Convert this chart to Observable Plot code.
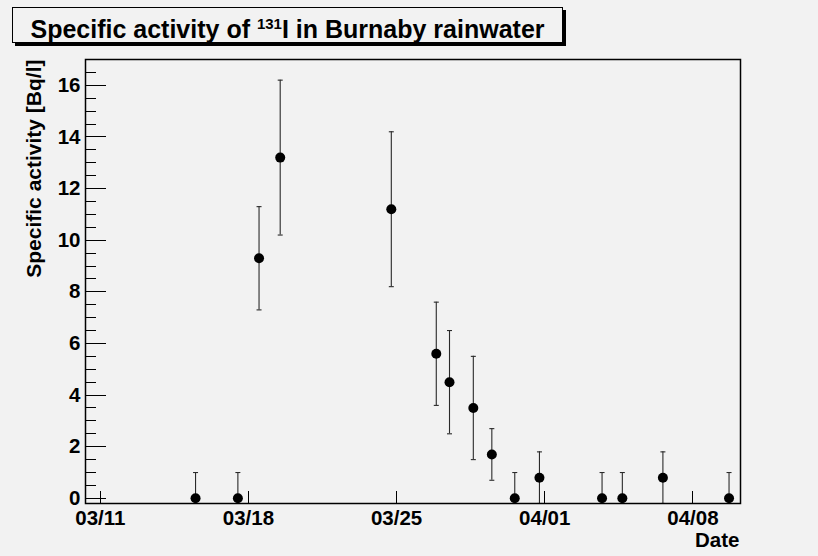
<!DOCTYPE html>
<html>
<head>
<meta charset="utf-8">
<script src="https://cdn.jsdelivr.net/npm/d3@7"></script>
<script src="https://cdn.jsdelivr.net/npm/@observablehq/plot@0.6"></script>
<style>
  html, body { margin: 0; padding: 0; background: #f2f2f2; }
  #wrap { position: relative; width: 818px; height: 556px; background: #f2f2f2; font-family: "Liberation Sans", Arial, Helvetica, sans-serif; }
  #title {
    position: absolute; left: 12px; top: 7px; width: 551px; height: 36px;
    box-sizing: border-box; border: 1px solid #000; background: #f2f2f2;
    box-shadow: 3px 3px 0 #000;
    text-align: center; font-weight: bold; font-size: 25px; line-height: 34px; color: #000;
  }
  #title .in { position: relative; top: 4px; }
  #title .sup { font-size: 0.6em; position: relative; top: -0.62em; }
  #chart { position: absolute; left: 0; top: 0; }
</style>
</head>
<body>
<div id="wrap">
  <div id="chart"></div>
  <div id="title"><span class="in">Specific activity of <span class="sup">131</span>I in Burnaby rainwater</span></div>
</div>
<script>
// Sampling dates (UTC), measured specific activity [Bq/l] and uncertainty
const dates = [
  "2011-03-15T12:00Z", "2011-03-17T12:00Z", "2011-03-18T12:00Z", "2011-03-19T12:00Z",
  "2011-03-24T18:00Z", "2011-03-26T21:00Z", "2011-03-27T12:00Z", "2011-03-28T15:00Z",
  "2011-03-29T12:00Z", "2011-03-30T14:00Z", "2011-03-31T18:00Z", "2011-04-03T17:00Z",
  "2011-04-04T16:00Z", "2011-04-06T14:00Z", "2011-04-09T17:00Z"
];
const activity = [0, 0, 9.3, 13.2, 11.2, 5.6, 4.5, 3.5, 1.7, 0, 0.8, 0, 0, 0.8, 0];
const errors   = [1, 1, 2,   3,    3,    2,   2,   2,   1,   1, 1,   1, 1, 1,   1];

const xTickDates = ["2011-03-11T00:00Z", "2011-03-18T00:00Z", "2011-03-25T00:00Z", "2011-04-01T00:00Z", "2011-04-08T00:00Z"];
const yMajor = [0, 2, 4, 6, 8, 10, 12, 14, 16];
const yMinor = [0.5, 1, 1.5, 2.5, 3, 3.5, 4.5, 5, 5.5, 6.5, 7, 7.5, 8.5, 9, 9.5, 10.5, 11, 11.5, 12.5, 13, 13.5, 14.5, 15, 15.5, 16.5, 17];
const xDomain = ["2011-03-10T07:12Z", "2011-04-10T06:00Z"];
const yDomain = [-0.2, 17];

const data = dates.map((d, i) => ({
  date: new Date(d), v: activity[i], lo: activity[i] - errors[i], hi: activity[i] + errors[i]
}));
const xTicks = xTickDates.map(d => new Date(d));

const hTick = len => ({ draw(ctx) { ctx.moveTo(0, 0); ctx.lineTo(len, 0); } });
const vTick = len => ({ draw(ctx) { ctx.moveTo(0, 0); ctx.lineTo(0, -len); } });
const cap = { draw(ctx) { ctx.moveTo(-2.5, 0); ctx.lineTo(2.5, 0); } };

const font = "Liberation Sans, Arial, Helvetica, sans-serif";

const chart = Plot.plot({
  width: 818,
  height: 556,
  marginLeft: 85,
  marginRight: 78,
  marginTop: 59,
  marginBottom: 53,
  style: { background: "#f2f2f2", fontFamily: font, color: "#000", overflow: "visible" },
  x: { type: "utc", domain: xDomain.map(d => new Date(d)) },
  y: { domain: yDomain },
  marks: [
    // error bars
    Plot.ruleX(data, { x: "date", y1: "lo", y2: "hi", stroke: "#2a2a2a", strokeWidth: 1.1, clip: true }),
    Plot.dot(data, { x: "date", y: "hi", symbol: cap, fill: "none", stroke: "#2a2a2a", strokeWidth: 1.1, clip: true }),
    Plot.dot(data, { x: "date", y: "lo", symbol: cap, fill: "none", stroke: "#2a2a2a", strokeWidth: 1.1, clip: true }),
    // points
    Plot.dot(data, { x: "date", y: "v", r: 5, fill: "#000", stroke: "none" }),
    // y ticks (inward)
    Plot.dot(yMajor, { y: d => d, frameAnchor: "left", symbol: hTick(20), fill: "none", stroke: "#000", strokeWidth: 1, shapeRendering: "crispEdges" }),
    Plot.dot(yMinor, { y: d => d, frameAnchor: "left", symbol: hTick(10), fill: "none", stroke: "#000", strokeWidth: 1, shapeRendering: "crispEdges" }),
    // x ticks (inward)
    Plot.dot(xTicks, { x: d => d, frameAnchor: "bottom", symbol: vTick(13), fill: "none", stroke: "#000", strokeWidth: 1, shapeRendering: "crispEdges" }),
    Plot.axisY({ ticks: yMajor, tickSize: 0, tickPadding: 5, fontSize: 20.5, fontWeight: "bold", label: null }),
    Plot.axisX({ ticks: xTicks, tickSize: 0, tickPadding: 7, tickFormat: d3.utcFormat("%m/%d"), fontSize: 20.5, fontWeight: "bold", label: null }),
    Plot.frame({ stroke: "#000", strokeWidth: 1.5 }),
    // axis titles
    Plot.text(["Specific activity [Bq/l]"], { frameAnchor: "top-left", rotate: -90, textAnchor: "end", lineAnchor: "middle", dx: -51, dy: 0, fontSize: 21, fontWeight: "bold", fill: "#000" }),
    Plot.text(["Date"], { frameAnchor: "bottom-right", textAnchor: "end", lineAnchor: "middle", dx: -1, dy: 37, fontSize: 20.5, fontWeight: "bold", fill: "#000" })
  ]
});
document.getElementById("chart").appendChild(chart);
</script>
</body>
</html>
